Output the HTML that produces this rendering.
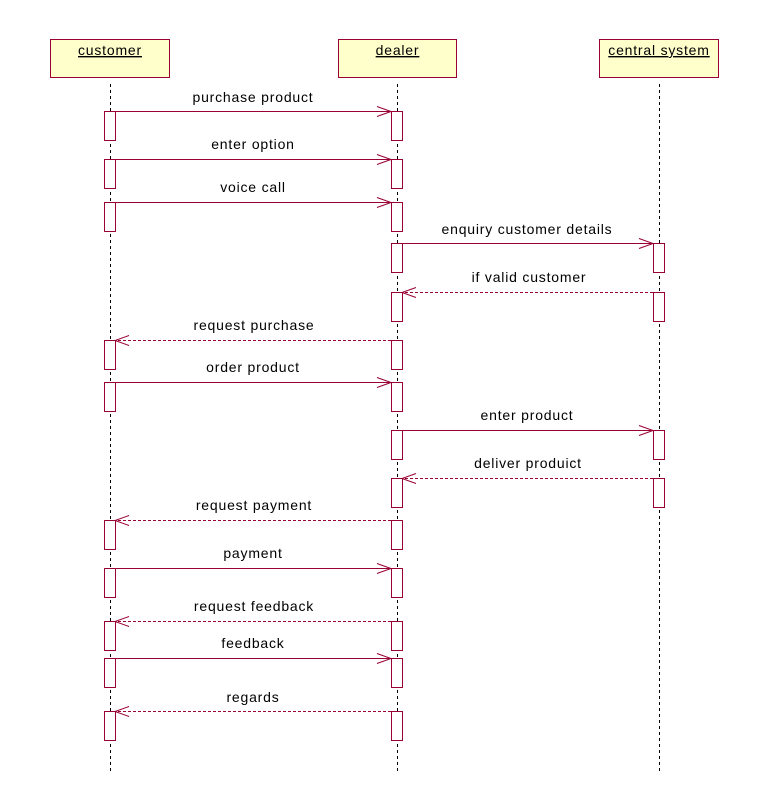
<!DOCTYPE html>
<html><head><meta charset="utf-8"><style>
html,body{margin:0;padding:0;background:#fff}
svg{display:block}
text{font-family:"Liberation Sans",Arial,sans-serif;font-size:14px;letter-spacing:0.8px;fill:#000;text-anchor:middle}
.b{fill:#ffffcc;stroke:#990033;stroke-width:1}
.a{fill:#fff;stroke:#990033;stroke-width:1}
.l{stroke:#000;stroke-width:1;stroke-dasharray:3,3}
.m{stroke:#990033;stroke-width:1;fill:none}
.d{stroke:#990033;stroke-width:1;fill:none;stroke-dasharray:3,2}
</style></head><body>
<svg width="775" height="792" viewBox="0 0 775 792">
<line class="l" x1="110.5" y1="84" x2="110.5" y2="772"/>
<line class="l" x1="397.5" y1="84" x2="397.5" y2="772"/>
<line class="l" x1="659.5" y1="84" x2="659.5" y2="772"/>
<rect class="b" x="50.5" y="39.5" width="119" height="38"/>
<rect class="b" x="338.5" y="39.5" width="118" height="38"/>
<rect class="b" x="599.5" y="39.5" width="119" height="38"/>
<text x="110" y="55" text-decoration="underline">customer</text>
<text x="397.5" y="55" text-decoration="underline">dealer</text>
<text x="659" y="55" text-decoration="underline">central system</text>

<g class="a">
<rect x="104.5" y="111.5" width="11" height="29"/>
<rect x="104.5" y="159.5" width="11" height="29"/>
<rect x="104.5" y="202.5" width="11" height="29"/>
<rect x="104.5" y="340.5" width="11" height="29"/>
<rect x="104.5" y="382.5" width="11" height="29"/>
<rect x="104.5" y="520.5" width="11" height="29"/>
<rect x="104.5" y="568.5" width="11" height="29"/>
<rect x="104.5" y="621.5" width="11" height="29"/>
<rect x="104.5" y="658.5" width="11" height="29"/>
<rect x="104.5" y="711.5" width="11" height="29"/>
<rect x="391.5" y="111.5" width="11" height="29"/>
<rect x="391.5" y="159.5" width="11" height="29"/>
<rect x="391.5" y="202.5" width="11" height="29"/>
<rect x="391.5" y="243.5" width="11" height="29"/>
<rect x="391.5" y="292.5" width="11" height="29"/>
<rect x="391.5" y="340.5" width="11" height="29"/>
<rect x="391.5" y="382.5" width="11" height="29"/>
<rect x="391.5" y="430.5" width="11" height="29"/>
<rect x="391.5" y="478.5" width="11" height="29"/>
<rect x="391.5" y="520.5" width="11" height="29"/>
<rect x="391.5" y="568.5" width="11" height="29"/>
<rect x="391.5" y="621.5" width="11" height="29"/>
<rect x="391.5" y="658.5" width="11" height="29"/>
<rect x="391.5" y="711.5" width="11" height="29"/>
<rect x="653.5" y="243.5" width="11" height="29"/>
<rect x="653.5" y="292.5" width="11" height="29"/>
<rect x="653.5" y="430.5" width="11" height="29"/>
<rect x="653.5" y="478.5" width="11" height="29"/>
</g>

<path class="m" d="M115 111.5H391M377 106.5L391 111.5L377 116.5"/>
<text x="253" y="102">purchase product</text>
<path class="m" d="M115 159.5H391M377 154.5L391 159.5L377 164.5"/>
<text x="253" y="149">enter option</text>
<path class="m" d="M115 202.5H391M377 197.5L391 202.5L377 207.5"/>
<text x="253" y="192">voice call</text>
<path class="m" d="M402 243.5H653M639 238.5L653 243.5L639 248.5"/>
<text x="527" y="234">enquiry customer details</text>
<path class="d" d="M653 292.5H402"/><path class="m" d="M416 287.5L402 292.5L416 297.5"/>
<text x="529" y="282">if valid customer</text>
<path class="d" d="M391 340.5H115"/><path class="m" d="M129 335.5L115 340.5L129 345.5"/>
<text x="254" y="330">request purchase</text>
<path class="m" d="M115 382.5H391M377 377.5L391 382.5L377 387.5"/>
<text x="253" y="372">order product</text>
<path class="m" d="M402 430.5H653M639 425.5L653 430.5L639 435.5"/>
<text x="527" y="420">enter product</text>
<path class="d" d="M653 478.5H402"/><path class="m" d="M416 473.5L402 478.5L416 483.5"/>
<text x="528" y="468">deliver produict</text>
<path class="d" d="M391 520.5H115"/><path class="m" d="M129 515.5L115 520.5L129 525.5"/>
<text x="254" y="510">request payment</text>
<path class="m" d="M115 568.5H391M377 563.5L391 568.5L377 573.5"/>
<text x="253" y="558">payment</text>
<path class="d" d="M391 621.5H115"/><path class="m" d="M129 616.5L115 621.5L129 626.5"/>
<text x="254" y="611">request feedback</text>
<path class="m" d="M115 658.5H391M377 653.5L391 658.5L377 663.5"/>
<text x="253" y="648">feedback</text>
<path class="d" d="M391 711.5H115"/><path class="m" d="M129 706.5L115 711.5L129 716.5"/>
<text x="253" y="702">regards</text>
</svg>
</body></html>
